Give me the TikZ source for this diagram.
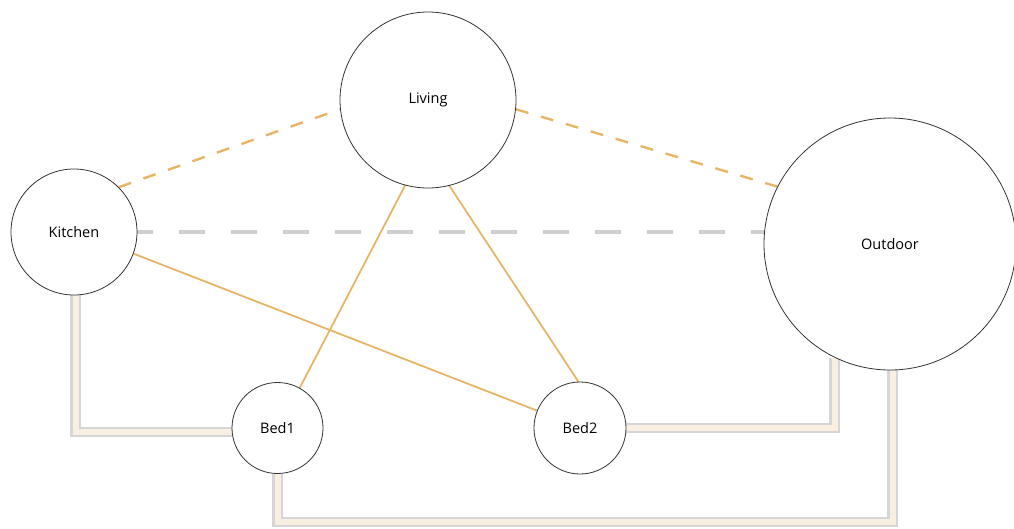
\documentclass[tikz,border=0pt]{standalone}
\usepackage{fontspec}
\setmainfont{Open Sans}
\usetikzlibrary{backgrounds}
\definecolor{pipegray}{HTML}{D6D6D6}
\definecolor{pipefill}{HTML}{F8EFE1}
\definecolor{orangeln}{HTML}{E8B468}
\definecolor{dashgray}{HTML}{CFCFCF}
\definecolor{ringcol}{HTML}{333333}
\begin{document}
\begin{tikzpicture}[x=1pt,y=-1pt,
  room/.style={circle,draw=ringcol,line width=0.8pt,fill=white,inner sep=0pt,
    font=\fontsize{14.5}{16}\selectfont},
  pipe/.style={draw=pipegray,line width=2.4pt,double=pipefill,double distance=6pt,line join=miter},
  adjdash/.style={draw=orangeln,line width=2.4pt,dash pattern=on 13pt off 13pt},
  adjsolid/.style={draw=orangeln,line width=1.8pt},
  farline/.style={draw=dashgray,line width=4.5pt,dash pattern=on 26pt off 26pt,dash phase=10pt}]
\useasboundingbox (0,0) rectangle (1014,528);
\node[room,minimum size=176] (living) at (428,100) {Living};
\node[room,minimum size=126] (kitchen) at (74,232) {Kitchen};
\node[room,minimum size=252] (outdoor) at (890,244) {Outdoor};
\node[room,minimum size=91] (bed1) at (277.5,428) {Bed1};
\node[room,minimum size=92] (bed2) at (580,428) {Bed2};
\coordinate (low) at (600,522);
\begin{pgfonlayer}{background}
  \draw[pipe] ([xshift=1.5pt]kitchen.south) |- ([yshift=-4pt]bed1.west);
  \draw[pipe] (bed2.east) -| (outdoor.244);
  \draw[pipe] (bed1.south) |- (low) -| ([xshift=2.5pt]outdoor.south);
  \draw[farline] (kitchen.east) -- (kitchen.east -| outdoor.west);
  \draw[adjdash] (kitchen.45) -- (living.186);
  \draw[adjdash] (living.354) -- (outdoor.153);
  \draw[adjsolid] (living.255) -- (bed1.61);
  \draw[adjsolid] (living.284) -- (bed2.92);
  \draw[adjsolid] (kitchen.340) -- (bed2.158);
\end{pgfonlayer}
\end{tikzpicture}
\end{document}
